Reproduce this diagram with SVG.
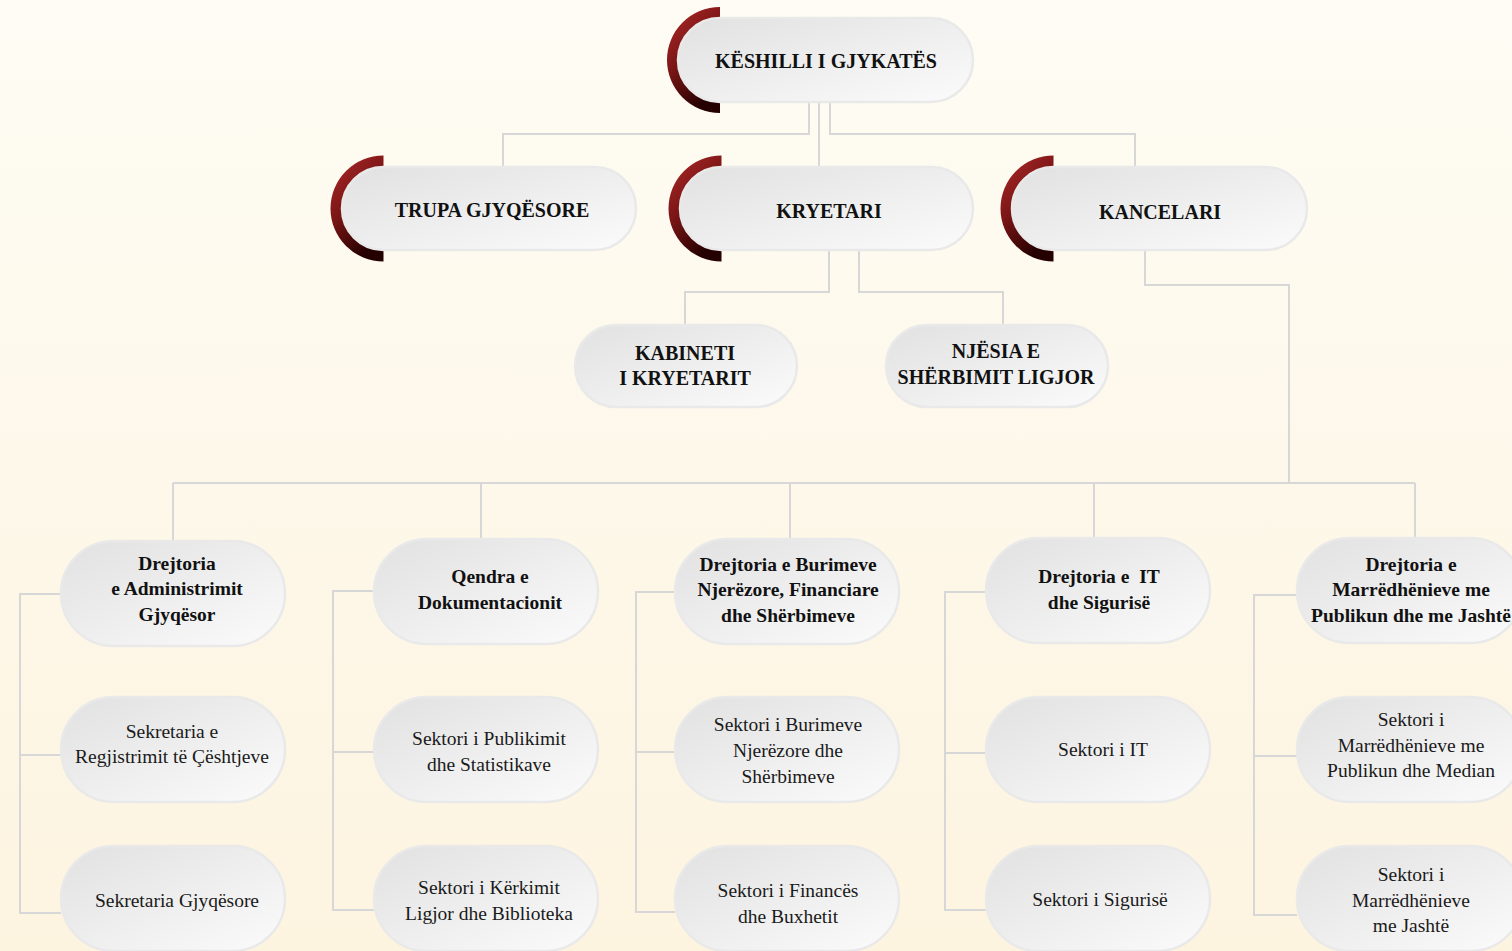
<svg xmlns="http://www.w3.org/2000/svg" width="1512" height="951" viewBox="0 0 1512 951">
  <defs>
    <linearGradient id="bg" x1="0" y1="0" x2="0" y2="1">
      <stop offset="0" stop-color="#fefcf4"/>
      <stop offset="1" stop-color="#fdf4e0"/>
    </linearGradient>
    <linearGradient id="pill" x1="0" y1="0" x2="1" y2="1">
      <stop offset="0" stop-color="#e1e1e1"/>
      <stop offset="1" stop-color="#fbfbfb"/>
    </linearGradient>
    <linearGradient id="red" x1="0" y1="0" x2="0.5" y2="1">
      <stop offset="0" stop-color="#b02a2a"/>
      <stop offset="0.5" stop-color="#7c1616"/>
      <stop offset="1" stop-color="#250000"/>
    </linearGradient>
    <style>
      .p { fill: url(#pill); stroke: #e9e9e9; stroke-width: 2.5; }
      .arc { fill: url(#red); }
      text { font-family: "Liberation Serif", "Times New Roman", "DejaVu Serif", serif; text-anchor: middle; }
      .h { font-weight: bold; font-size: 20px; fill: #111; }
      .b { font-weight: bold; font-size: 19.5px; fill: #111; }
      .r { font-weight: normal; font-size: 19.5px; fill: #1a1a1a; }
      #connectors path { fill: none; stroke: #d7d7d7; stroke-width: 2; }
    </style>
  </defs>
  <rect x="0" y="0" width="1512" height="951" fill="url(#bg)"/>

  <g id="connectors">
    <path d="M809,102 V134 H503 V167"/>
    <path d="M819,102 V167"/>
    <path d="M830,102 V134 H1135 V167"/>
    <path d="M829,250 V292 H685 V325"/>
    <path d="M859,250 V292 H1003 V325"/>
    <path d="M1145,250 V285 H1289 V483"/>
    <path d="M173,483 H1415"/>
    <path d="M173,483 V541"/>
    <path d="M481,483 V539"/>
    <path d="M790,483 V539"/>
    <path d="M1094,483 V538"/>
    <path d="M1415,483 V538"/>
    <path d="M61,594 H20 V913 H61 M20,755 H61"/>
    <path d="M374,591 H333 V910 H374 M333,752 H374"/>
    <path d="M675,592 H636 V912 H675 M636,752 H675"/>
    <path d="M986,592 H945 V910 H986 M945,753 H986"/>
    <path d="M1297,595 H1254 V915 H1297 M1254,756 H1297"/>
  </g>

  <g id="keshilli">
    <path class="arc" d="M720,7 A53,53 0 0 0 720,113 L720,102 A42,42 0 0 1 720,18 Z"/>
    <rect class="p" x="678" y="18" width="295" height="84" rx="42"/>
    <text class="h" x="826" y="68" font-family="Liberation Serif, serif">KËSHILLI I GJYKATËS</text>
  </g>
  <g id="trupa">
    <path class="arc" d="M383.5,155.5 A53,53 0 0 0 383.5,261.5 L383.5,250 A41.5,41.5 0 0 1 383.5,167 Z"/>
    <rect class="p" x="342" y="167" width="294" height="83" rx="41.5"/>
    <text class="h" x="492" y="217">TRUPA GJYQËSORE</text>
  </g>
  <g id="kryetari">
    <path class="arc" d="M721.5,155.5 A53,53 0 0 0 721.5,261.5 L721.5,250 A41.5,41.5 0 0 1 721.5,167 Z"/>
    <rect class="p" x="680" y="167" width="293" height="83" rx="41.5"/>
    <text class="h" x="829" y="218">KRYETARI</text>
  </g>
  <g id="kancelari">
    <path class="arc" d="M1053.5,155.5 A53,53 0 0 0 1053.5,261.5 L1053.5,250 A41.5,41.5 0 0 1 1053.5,167 Z"/>
    <rect class="p" x="1012" y="167" width="295" height="83" rx="41.5"/>
    <text class="h" x="1160" y="219">KANCELARI</text>
  </g>

  <g id="kabineti">
    <rect class="p" x="575" y="325" width="222" height="82" rx="41"/>
    <text class="h" x="685" y="360">KABINETI</text>
    <text class="h" x="685" y="385">I KRYETARIT</text>
  </g>
  <g id="njesia">
    <rect class="p" x="886" y="325" width="222" height="82" rx="41"/>
    <text class="h" x="996" y="358">NJËSIA E</text>
    <text class="h" x="996" y="384">SHËRBIMIT LIGJOR</text>
  </g>

  <g id="d-administrimit">
    <rect class="p" x="61" y="541" width="224" height="105" rx="52.5"/>
    <text class="b" x="177" y="570">Drejtoria</text>
    <text class="b" x="177" y="595">e Administrimit</text>
    <text class="b" x="177" y="621">Gjyqësor</text>
  </g>
  <g id="s-regjistrimit">
    <rect class="p" x="61" y="697" width="224" height="105" rx="52.5"/>
    <text class="r" x="172" y="738">Sekretaria e</text>
    <text class="r" x="172" y="763">Regjistrimit të Çështjeve</text>
  </g>
  <g id="s-gjyqesore">
    <rect class="p" x="61" y="846" width="224" height="105" rx="52.5"/>
    <text class="r" x="177" y="907">Sekretaria Gjyqësore</text>
  </g>

  <g id="d-dokumentacionit">
    <rect class="p" x="374" y="539" width="224" height="105" rx="52.5"/>
    <text class="b" x="490" y="583">Qendra e</text>
    <text class="b" x="490" y="609">Dokumentacionit</text>
  </g>
  <g id="s-publikimit">
    <rect class="p" x="374" y="697" width="224" height="105" rx="52.5"/>
    <text class="r" x="489" y="745">Sektori i Publikimit</text>
    <text class="r" x="489" y="771">dhe Statistikave</text>
  </g>
  <g id="s-kerkimit">
    <rect class="p" x="374" y="846" width="224" height="105" rx="52.5"/>
    <text class="r" x="489" y="894">Sektori i Kërkimit</text>
    <text class="r" x="489" y="920">Ligjor dhe Biblioteka</text>
  </g>

  <g id="d-burimeve">
    <rect class="p" x="675" y="539" width="224" height="105" rx="52.5"/>
    <text class="b" x="788" y="571">Drejtoria e Burimeve</text>
    <text class="b" x="788" y="596">Njerëzore, Financiare</text>
    <text class="b" x="788" y="622">dhe Shërbimeve</text>
  </g>
  <g id="s-burimeve">
    <rect class="p" x="675" y="697" width="224" height="105" rx="52.5"/>
    <text class="r" x="788" y="731">Sektori i Burimeve</text>
    <text class="r" x="788" y="757">Njerëzore dhe</text>
    <text class="r" x="788" y="783">Shërbimeve</text>
  </g>
  <g id="s-finances">
    <rect class="p" x="675" y="846" width="224" height="105" rx="52.5"/>
    <text class="r" x="788" y="897">Sektori i Financës</text>
    <text class="r" x="788" y="923">dhe Buxhetit</text>
  </g>

  <g id="d-it">
    <rect class="p" x="986" y="538" width="224" height="105" rx="52.5"/>
    <text class="b" x="1099" y="583" xml:space="preserve">Drejtoria e  IT</text>
    <text class="b" x="1099" y="609">dhe Sigurisë</text>
  </g>
  <g id="s-it">
    <rect class="p" x="986" y="697" width="224" height="105" rx="52.5"/>
    <text class="r" x="1103" y="756">Sektori i IT</text>
  </g>
  <g id="s-sigurise">
    <rect class="p" x="986" y="846" width="224" height="105" rx="52.5"/>
    <text class="r" x="1100" y="906">Sektori i Sigurisë</text>
  </g>

  <g id="d-marredhenieve">
    <rect class="p" x="1297" y="538" width="226" height="105" rx="52.5"/>
    <text class="b" x="1411" y="571">Drejtoria e</text>
    <text class="b" x="1411" y="596">Marrëdhënieve me</text>
    <text class="b" x="1411" y="622">Publikun dhe me Jashtë</text>
  </g>
  <g id="s-median">
    <rect class="p" x="1297" y="697" width="226" height="105" rx="52.5"/>
    <text class="r" x="1411" y="726">Sektori i</text>
    <text class="r" x="1411" y="752">Marrëdhënieve me</text>
    <text class="r" x="1411" y="777">Publikun dhe Median</text>
  </g>
  <g id="s-jashte">
    <rect class="p" x="1297" y="846" width="226" height="105" rx="52.5"/>
    <text class="r" x="1411" y="881">Sektori i</text>
    <text class="r" x="1411" y="907">Marrëdhënieve</text>
    <text class="r" x="1411" y="932">me Jashtë</text>
  </g>
</svg>
